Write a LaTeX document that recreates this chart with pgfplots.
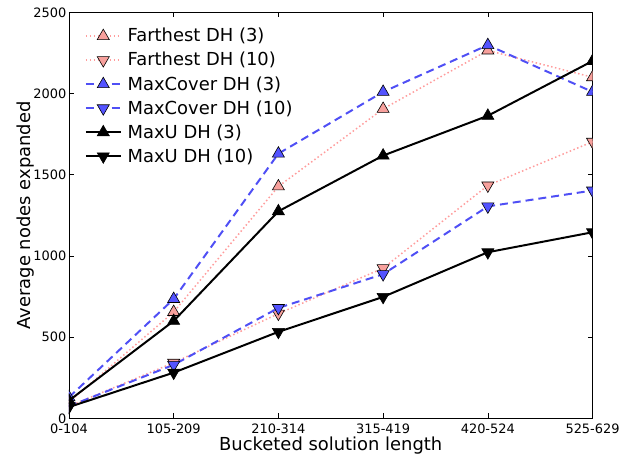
\documentclass[border=0pt]{standalone}
\usepackage{fontspec}
\setmainfont{DejaVu Sans}
\usepackage{pgfplots}
\pgfplotsset{compat=1.18}
\definecolor{farline}{HTML}{FF9C9C}
\definecolor{farfill}{HTML}{F7A09C}
\definecolor{mcline}{HTML}{4F4FF5}
\definecolor{mcfill}{HTML}{5353FF}
\begin{document}
\fontsize{13.3}{16}\selectfont
\begin{tikzpicture}
\begin{axis}[
  scale only axis, width=526pt, height=408pt,
  xmin=0, xmax=5, ymin=0, ymax=2500,
  xtick={0,1,2,3,4,5},
  xticklabels={0-104,105-209,210-314,315-419,420-524,525-629},
  ytick={0,500,1000,1500,2000,2500},
  tick align=inside, tick pos=both,
  major tick length=5pt,
  tick style={black, line width=0.6pt},
  axis line style={line width=0.8pt},
  /pgf/number format/assume math mode=true,
  /pgf/number format/1000 sep={},
  scaled y ticks=false,
  ticklabel style={font=\fontsize{13}{16}\selectfont},
  xticklabel style={yshift=-1pt},
  yticklabel style={xshift=2pt},
  label style={font=\fontsize{18}{21}\selectfont},
  xlabel={Bucketed solution length},
  ylabel={Average nodes expanded},
  xlabel style={at={(axis description cs:0.5,-0.068)}, anchor=center},
  ylabel style={at={(axis description cs:-0.082,0.5)}, anchor=center},
  clip mode=individual, clip marker paths=true,
  legend style={draw=none, fill=none, inner sep=0pt, at={(0.03,0.966)}, anchor=north west,
    font=\fontsize{18}{21}\selectfont, row sep=4.5pt, cells={anchor=west},
    nodes={inner xsep=6pt}},
  legend image code/.code={
    \draw[mark repeat=2,mark phase=2,#1] plot coordinates {(0pt,0pt) (17.5pt,0pt) (35pt,0pt)};},
  every axis plot/.append style={mark size=7pt},
]
\addplot[farline, line width=1.5pt, dash pattern=on 1.5pt off 2.5pt,
  mark=triangle*, mark options={solid, fill=farfill, draw=black, line width=0.6pt}]
  coordinates {(0,100) (1,655) (2,1428) (3,1905) (4,2265) (5,2100)};
\addlegendentry{Farthest DH (3)}
\addplot[farline, line width=1.5pt, dash pattern=on 1.5pt off 2.5pt,
  mark=triangle*, mark options={solid, rotate=180, fill=farfill, draw=black, line width=0.6pt}]
  coordinates {(0,75) (1,343) (2,645) (3,925) (4,1434) (5,1703)};
\addlegendentry{Farthest DH (10)}
\addplot[mcline, line width=2pt, dash pattern=on 8pt off 5pt,
  mark=triangle*, mark options={solid, fill=mcfill, draw=black, line width=0.6pt}]
  coordinates {(0,130) (1,735) (2,1630) (3,2010) (4,2298) (5,2010)};
\addlegendentry{MaxCover DH (3)}
\addplot[mcline, line width=2pt, dash pattern=on 8pt off 5pt,
  mark=triangle*, mark options={solid, rotate=180, fill=mcfill, draw=black, line width=0.6pt}]
  coordinates {(0,75) (1,330) (2,680) (3,888) (4,1305) (5,1403)};
\addlegendentry{MaxCover DH (10)}
\addplot[black, line width=2pt,
  mark=triangle*, mark options={solid, fill=black, draw=black, line width=0.6pt}]
  coordinates {(0,110) (1,600) (2,1275) (3,1618) (4,1863) (5,2200)};
\addlegendentry{MaxU DH (3)}
\addplot[black, line width=2pt,
  mark=triangle*, mark options={solid, rotate=180, fill=black, draw=black, line width=0.6pt}]
  coordinates {(0,70) (1,282) (2,533) (3,748) (4,1023) (5,1146)};
\addlegendentry{MaxU DH (10)}
\end{axis}
\path (current bounding box.south west) ++(-13pt,0pt);
\path (current bounding box.north west) ++(0pt,3pt);
\end{tikzpicture}
\end{document}
